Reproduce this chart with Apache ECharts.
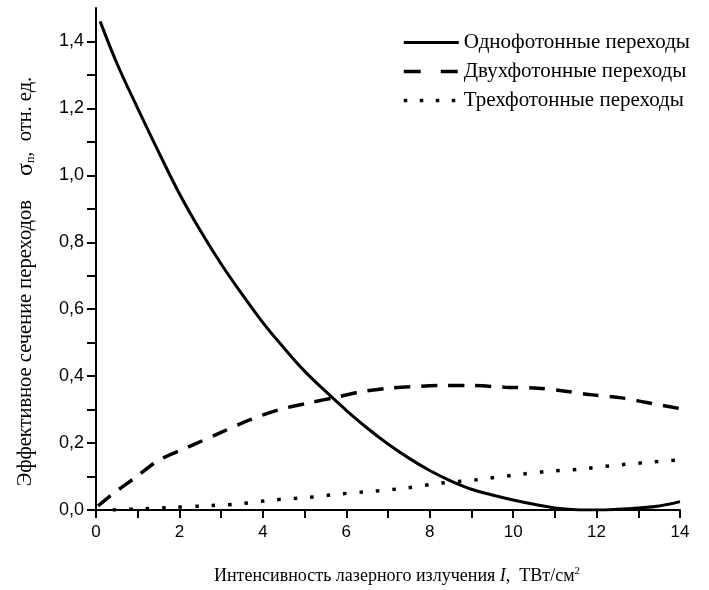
<!DOCTYPE html>
<html>
<head>
<meta charset="utf-8">
<script src="https://cdn.jsdelivr.net/npm/echarts@6/dist/echarts.min.js"></script>
<style>html,body{margin:0;padding:0;background:#fff}#c{width:709px;height:590px}</style>
</head>
<body>
<div id="c"></div>
<script>
// One-photon transitions
const oneX = [0.1, 0.5, 1, 1.5, 2, 2.5, 3, 3.5, 4, 4.5, 5, 5.5, 6, 6.5, 7, 7.5, 8, 8.5, 9, 9.5, 10, 10.5, 11, 11.5, 12, 12.5, 13, 13.5, 14];
const oneY = [1.46, 1.335, 1.20, 1.07, 0.945, 0.835, 0.735, 0.645, 0.56, 0.485, 0.415, 0.355, 0.298, 0.245, 0.197, 0.155, 0.118, 0.087, 0.062, 0.045, 0.03, 0.017, 0.006, 0.001, 0.0, 0.002, 0.006, 0.012, 0.025];
// Two-photon transitions
const twoX = [0.05, 0.4, 0.9, 1.5, 2.3, 3.0, 3.7, 4.4, 5.1, 5.8, 6.3, 7.0, 7.8, 8.4, 9.0, 9.8, 10.6, 11.3, 11.9, 12.6, 13.2, 14];
const twoY = [0.012, 0.048, 0.093, 0.148, 0.193, 0.232, 0.27, 0.30, 0.32, 0.338, 0.352, 0.364, 0.37, 0.372, 0.372, 0.367, 0.364, 0.354, 0.344, 0.335, 0.321, 0.303];
// Three-photon transitions
const threeX = [0.4, 1.0, 1.85, 2.55, 3.4, 4.25, 5.05, 5.85, 6.65, 7.45, 8.25, 9.1, 10.0, 10.8, 11.6, 12.4, 13.2, 14];
const threeY = [0.0, 0.003, 0.008, 0.012, 0.018, 0.03, 0.037, 0.048, 0.056, 0.066, 0.08, 0.09, 0.104, 0.115, 0.122, 0.133, 0.142, 0.15];

const seriesNames = ['Однофотонные переходы', 'Двухфотонные переходы', 'Трехфотонные переходы'];
const xTicks = { min: 0, max: 14, step: 1 };
const yTicks = { min: 0, max: 1.5, step: 0.1 };

const zip = (xs, ys) => xs.map((x, i) => [x, ys[i]]);
const serif = '"Liberation Serif", "DejaVu Serif", serif';
const sans = '"Liberation Sans", Arial, sans-serif';

const chart = echarts.init(document.getElementById('c'));
chart.setOption({
  animation: false,
  backgroundColor: '#fff',
  grid: { left: 96, right: 29, top: 8, bottom: 77, containLabel: false },
  legend: {
    left: 397, top: 27, orient: 'vertical',
    itemWidth: 55, itemHeight: 14, itemGap: 8,
    itemStyle: { opacity: 0 },
    textStyle: { fontFamily: serif, fontSize: 21, color: '#000', padding: [0, 0, 0, 0] },
    data: [
      { name: seriesNames[0], lineStyle: { type: 'solid', width: 3, color: '#000' } },
      { name: seriesNames[1], lineStyle: { type: [17, 20], width: 3.5, color: '#000' } },
      { name: seriesNames[2], lineStyle: { type: [3.5, 12.5], width: 3.5, color: '#000' } }
    ]
  },
  xAxis: {
    type: 'value', min: xTicks.min, max: xTicks.max, interval: xTicks.step,
    splitLine: { show: false },
    axisLine: { lineStyle: { color: '#000', width: 2 } },
    axisTick: { length: 8, lineStyle: { color: '#000', width: 2 } },
    axisLabel: {
      color: '#000', fontFamily: sans, fontSize: 17, margin: 14,
      formatter: v => (Math.round(v) % 2 === 0 ? String(v) : '')
    },
    name: '{a|Интенсивность лазерного излучения }{i|I}{a|,  ТВт/см}{s|2}',
    nameLocation: 'middle', nameGap: 56,
    nameTextStyle: {
      padding: [0, 0, 0, 18],
      rich: {
        a: { fontFamily: serif, fontSize: 18, color: '#000' },
        i: { fontFamily: serif, fontSize: 18, fontStyle: 'italic', color: '#000' },
        s: { fontFamily: serif, fontSize: 11, color: '#000', padding: [0, 0, 9, 0] }
      }
    }
  },
  yAxis: {
    type: 'value', min: yTicks.min, max: yTicks.max, interval: yTicks.step,
    splitLine: { show: false },
    axisLine: { lineStyle: { color: '#000', width: 2 } },
    axisTick: { length: 9, lineStyle: { color: '#000', width: 2 } },
    axisLabel: {
      color: '#000', fontFamily: sans, fontSize: 18, margin: 12, showMaxLabel: false,
      formatter: v => (Math.round(v * 10) % 2 === 0 && v < 1.45 ? v.toFixed(1).replace('.', ',') : '')
    },
    name: '{a|Эффективное сечение переходов}{g|}{b|σ}{sub|п}{a|,  отн. ед.}',
    nameLocation: 'middle', nameGap: 58,
    nameTextStyle: {
      padding: [0, 45, 0, 0],
      rich: {
        a: { fontFamily: serif, fontSize: 20.5, color: '#000' },
        g: { width: 24 },
        b: { fontFamily: serif, fontSize: 24, color: '#000' },
        sub: { fontFamily: serif, fontSize: 12, color: '#000', padding: [10, 0, 0, 0] }
      }
    }
  },
  series: [
    {
      name: seriesNames[0], type: 'line', data: zip(oneX, oneY), smooth: 0.4,
      symbol: 'none', lineStyle: { color: '#000', width: 3 }, itemStyle: { color: '#000' }
    },
    {
      name: seriesNames[1], type: 'line', data: zip(twoX, twoY), smooth: 0.3,
      symbol: 'none', lineStyle: { color: '#000', width: 3.5, type: [16, 11] }, itemStyle: { color: '#000' }
    },
    {
      name: seriesNames[2], type: 'line', data: zip(threeX, threeY), smooth: 0.3,
      symbol: 'none', lineStyle: { color: '#000', width: 3.5, type: [3.5, 13] }, itemStyle: { color: '#000' }
    }
  ]
});
</script>
</body>
</html>
